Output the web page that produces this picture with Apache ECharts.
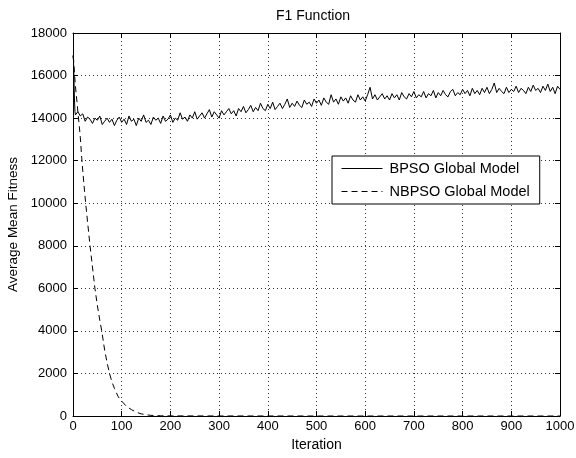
<!DOCTYPE html>
<html>
<head>
<meta charset="utf-8">
<script src="https://cdn.jsdelivr.net/npm/echarts@6/dist/echarts.min.js"></script>
<style>html,body{margin:0;padding:0;background:#fff;}#c{width:576px;height:458px;}</style>
</head>
<body>
<div id="c"></div>
<script>
var titleText = 'F1 Function';
var xName = 'Iteration';
var yName = 'Average Mean Fitness';
var seriesNames = ['BPSO Global Model', 'NBPSO Global Model'];
var xTicks = [0, 100, 200, 300, 400, 500, 600, 700, 800, 900, 1000];
var yTicks = [0, 2000, 4000, 6000, 8000, 10000, 12000, 14000, 16000, 18000];

var bpsoX = [0,1,2,3,4,5,10,15,20,25,30,35,40,45,50,55,60,65,70,75,80,85,90,95,
100,105,110,115,120,125,130,135,140,145,150,155,160,165,170,175,180,185,190,195,
200,205,210,215,220,225,230,235,240,245,250,255,260,265,270,275,280,285,290,295,
300,305,310,315,320,325,330,335,340,345,350,355,360,365,370,375,380,385,390,395,
400,405,410,415,420,425,430,435,440,445,450,455,460,465,470,475,480,485,490,495,
500,505,510,515,520,525,530,535,540,545,550,555,560,565,570,575,580,585,590,595,
600,605,610,615,620,625,630,635,640,645,650,655,660,665,670,675,680,685,690,695,
700,705,710,715,720,725,730,735,740,745,750,755,760,765,770,775,780,785,790,795,
800,805,810,815,820,825,830,835,840,845,850,855,860,865,870,875,880,885,890,895,
900,905,910,915,920,925,930,935,940,945,950,955,960,965,970,975,980,985,990,995,1000];
var bpsoY = [16950,16700,15800,14900,14300,14150,
14300,14100,14200,13850,14050,13950,13750,14000,13900,14100,13700,13850,14000,13800,13950,13650,13900,14050,
13800,13950,13700,14100,13850,13950,13650,14000,13850,14150,13800,13900,13700,14050,13900,14000,13750,14100,13850,13950,
14150,13800,14000,13900,14250,13950,14050,13850,14150,14000,14300,13950,14100,14250,14000,14200,14400,14050,14300,14150,
14000,14350,14150,14300,14450,14200,14350,14100,14450,14300,14550,14250,14400,14600,14300,14500,14350,14700,14450,14350,
14650,14450,14750,14400,14550,14700,14450,14650,14900,14500,14700,14550,14800,14600,14500,14850,14650,14750,14550,14900,
14700,14850,14600,14950,14750,14650,15100,14750,14900,14650,15000,14800,14950,14700,15050,14850,14750,15100,14850,15000,
14800,15100,15450,14900,15100,14850,15000,15150,14900,15050,14850,15150,14950,15100,14850,15200,15000,14900,15150,15000,
15250,14950,15100,15000,15250,14950,15150,15050,15300,14950,15200,15050,15300,15100,15000,15250,15350,15050,15200,15100,
15350,15150,15300,15050,15400,15150,15300,15100,15400,15200,15450,15150,15350,15650,15200,15400,15250,15150,15450,15200,
15350,15250,15500,15200,15400,15300,15150,15450,15250,15550,15300,15400,15200,15500,15300,15600,15250,15450,15150,15500,
15350];

var nbpsoX = [0,1,2,3,5,8,10,13,15,18,22,26,30,35,40,45,50,55,59,65,70,75,80,85,93,100,110,120,130,140,150,160,180,200,300,400,500,600,700,800,900,1000];
var nbpsoY = [16900,16800,16500,16100,15500,14800,14300,13600,13100,12100,11000,10000,9100,8000,7000,6000,5200,4500,4000,3100,2500,2000,1600,1300,900,700,450,300,180,100,60,30,10,5,2,1,0,0,0,0,0,0];

function pairs(xs, ys) { return xs.map(function (x, i) { return [x, ys[i]]; }); }
function plain(v) { return String(v); }

var FONT = 'Liberation Sans, Arial, sans-serif';
var chart = echarts.init(document.getElementById('c'), null, { renderer: 'canvas' });
var gridLine = { show: true, lineStyle: { color: '#333', width: 1, type: [1, 3] } };
var tickStyle = { show: true, inside: true, length: 5, lineStyle: { color: '#000', width: 1 } };
chart.setOption({
  animation: false,
  backgroundColor: '#fff',
  title: {
    text: titleText, left: 313, top: 9, textAlign: 'center', padding: 0,
    textStyle: { fontFamily: FONT, fontSize: 14, fontWeight: 'normal', color: '#000' }
  },
  grid: { left: 73, right: 16, top: 33, bottom: 42, containLabel: false, outerBoundsMode: 'none' },
  legend: {
    orient: 'vertical', left: 332, top: 156,
    padding: [5, 10, 5, 9], itemWidth: 41, itemHeight: 14, itemGap: 8,
    backgroundColor: '#fff', borderColor: '#000', borderWidth: 1, borderRadius: 0,
    itemStyle: { opacity: 0 },
    lineStyle: { width: 1 },
    textStyle: { fontFamily: FONT, fontSize: 14.5, color: '#000', padding: [0, 0, 0, 2] },
    data: seriesNames
  },
  xAxis: [{
    type: 'value', min: xTicks[0], max: xTicks[xTicks.length - 1], interval: xTicks[1] - xTicks[0],
    name: xName, nameLocation: 'middle', nameGap: 21,
    nameTextStyle: { fontFamily: FONT, fontSize: 14, color: '#000' },
    axisLine: { show: true, onZero: false, lineStyle: { color: '#000', width: 1 } },
    axisTick: tickStyle,
    axisLabel: { fontFamily: FONT, fontSize: 13, color: '#000', margin: 4, formatter: plain },
    splitLine: gridLine
  }, {
    type: 'value', position: 'top', min: xTicks[0], max: xTicks[xTicks.length - 1], interval: xTicks[1] - xTicks[0],
    axisLine: { show: true, onZero: false, lineStyle: { color: '#000', width: 1 } },
    axisTick: tickStyle, axisLabel: { show: false }, splitLine: { show: false }
  }],
  yAxis: [{
    type: 'value', min: yTicks[0], max: yTicks[yTicks.length - 1], interval: yTicks[1] - yTicks[0],
    name: yName, nameLocation: 'middle', nameGap: 48, nameRotate: 90,
    nameTextStyle: { fontFamily: FONT, fontSize: 13.5, color: '#000' },
    axisLine: { show: true, onZero: false, lineStyle: { color: '#000', width: 1 } },
    axisTick: tickStyle,
    axisLabel: { fontFamily: FONT, fontSize: 13, color: '#000', margin: 6, formatter: plain },
    splitLine: gridLine
  }, {
    type: 'value', position: 'right', min: yTicks[0], max: yTicks[yTicks.length - 1], interval: yTicks[1] - yTicks[0],
    axisLine: { show: true, onZero: false, lineStyle: { color: '#000', width: 1 } },
    axisTick: tickStyle, axisLabel: { show: false }, splitLine: { show: false }
  }],
  series: [{
    name: seriesNames[0], type: 'line', showSymbol: false, symbol: 'none',
    data: pairs(bpsoX, bpsoY),
    lineStyle: { color: '#000', width: 1, type: 'solid' }, itemStyle: { color: '#000' }
  }, {
    name: seriesNames[1], type: 'line', showSymbol: false, symbol: 'none',
    data: pairs(nbpsoX, nbpsoY),
    lineStyle: { color: '#000', width: 1, type: [6, 4] }, itemStyle: { color: '#000' }
  }]
});
</script>
</body>
</html>
